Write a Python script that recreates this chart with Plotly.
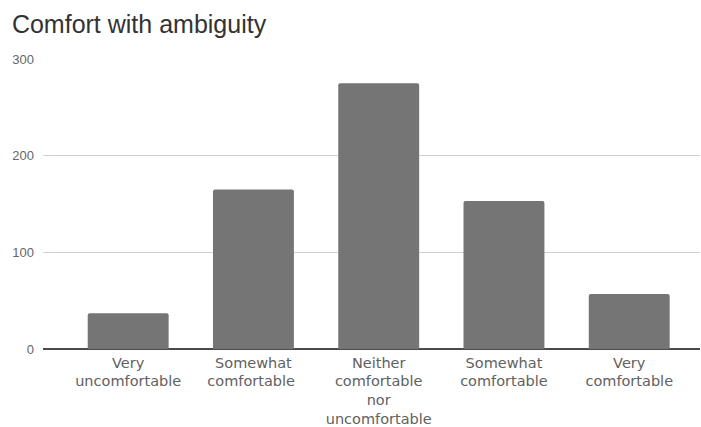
import plotly.graph_objects as go

# Survey responses: comfort with ambiguity
categories = [
    "Very<br>uncomfortable",
    "Somewhat<br>comfortable ",
    "Neither<br>comfortable<br>nor<br>uncomfortable",
    "Somewhat<br>comfortable",
    "Very<br>comfortable",
]
counts = [37, 165, 275, 153, 57]
y_ticks = [0, 100, 200, 300]

fig = go.Figure(
    go.Bar(
        x=categories,
        y=counts,
        marker=dict(color="#757575", cornerradius=2, line=dict(width=0)),
        hoverinfo="x+y",
    )
)

fig.update_layout(
    width=701,
    height=427,
    margin=dict(l=43, r=1, t=59, b=78),
    paper_bgcolor="white",
    plot_bgcolor="white",
    bargap=0.354,
    showlegend=False,
    title=dict(
        text="Comfort with ambiguity",
        x=0.017,
        xanchor="left",
        y=0.922,
        yanchor="bottom",
        font=dict(family="Liberation Sans, Arial, sans-serif", size=25, color="#333333"),
    ),
    font=dict(family="Liberation Sans, Arial, sans-serif"),
)

fig.update_xaxes(
    type="category",
    range=[-0.68, 4.565],
    automargin=False,
    showgrid=False,
    showline=False,
    ticks="",
    ticklabelstandoff=3,
    tickfont=dict(family="DejaVu Sans, sans-serif", size=14.5, color="#616161"),
)

fig.update_yaxes(
    range=[0, 300],
    tickvals=y_ticks,
    automargin=False,
    showgrid=True,
    gridcolor="#d0d0d0",
    gridwidth=1,
    zeroline=True,
    zerolinecolor="#4a4a4a",
    zerolinewidth=1.5,
    showline=False,
    ticks="",
    ticklabelstandoff=8,
    tickfont=dict(size=13, color="#666666"),
)

fig.write_html("out.html")
